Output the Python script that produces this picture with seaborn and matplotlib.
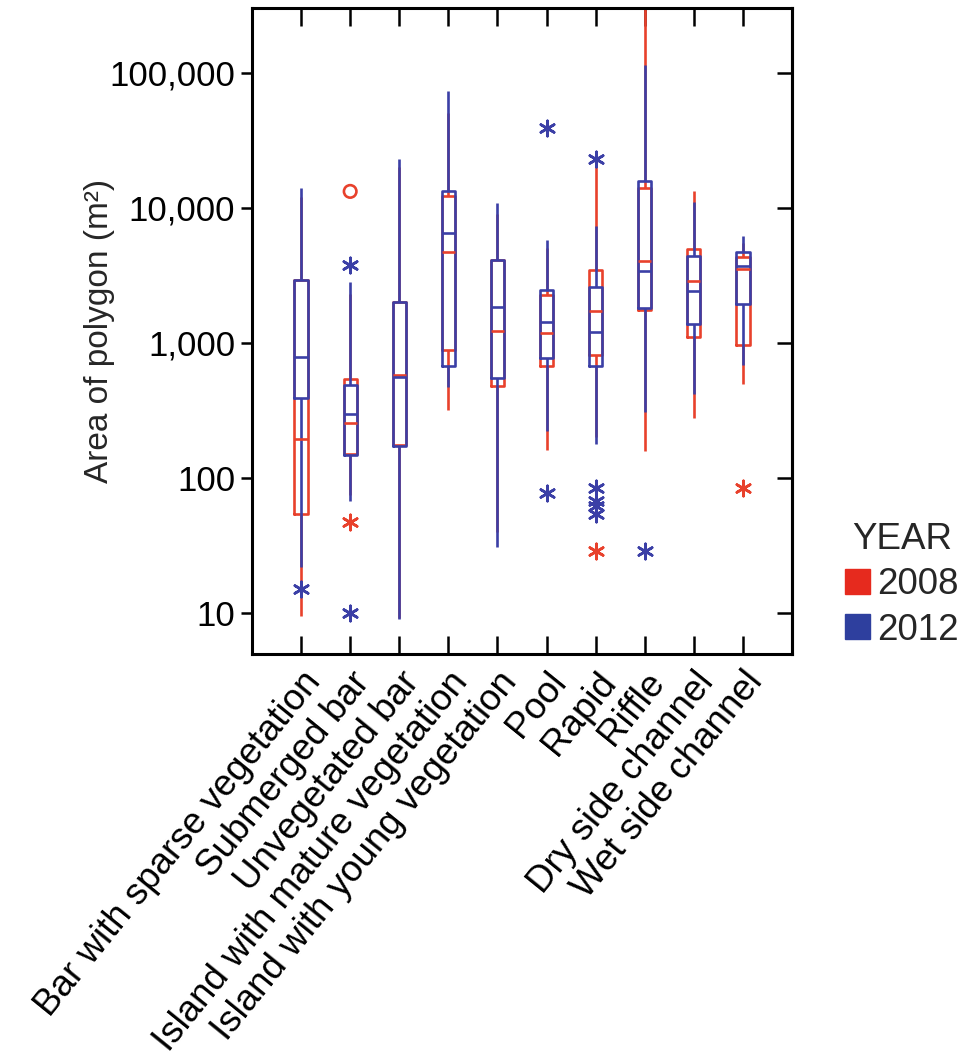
import warnings
warnings.filterwarnings("ignore")
import numpy as np
import pandas as pd
import matplotlib
matplotlib.use("Agg")
import matplotlib.pyplot as plt
from matplotlib.ticker import FixedLocator, FuncFormatter, NullLocator
from matplotlib.patches import Patch
import seaborn as sns

categories = [
    "Bar with sparse vegetation", "Submerged bar", "Unvegetated bar",
    "Island with mature vegetation", "Island with young vegetation",
    "Pool", "Rapid", "Riffle", "Dry side channel", "Wet side channel",
]
years = ["2008", "2012"]

# five-number summaries:
# lower whisker, Q1, median, Q3, upper whisker
box_2008 = [
    [9.5, 54, 195, 2900, 12000],
    [75, 150, 255, 540, 2300],
    [9.2, 175, 580, 2000, 20000],
    [320, 890, 4700, 12200, 50000],
    [40, 480, 1220, 4100, 9000],
    [162, 680, 1180, 2270, 5000],
    [200, 820, 1710, 3470, 20500],
    [158, 1750, 4060, 13900, 400000],
    [276, 1100, 2850, 4920, 13200],
    [500, 960, 3500, 4300, 5500],
]
box_2012 = [
    [22, 390, 780, 2900, 14000],
    [68, 148, 300, 490, 2800],
    [9.0, 172, 560, 2000, 23000],
    [470, 670, 6500, 13400, 72800],
    [31, 550, 1840, 4120, 10900],
    [223, 770, 1430, 2450, 5770],
    [180, 680, 1200, 2570, 7380],
    [306, 1800, 3410, 15800, 113000],
    [420, 1390, 2430, 4360, 11000],
    [690, 1950, 3700, 4680, 6200],
]

star_2008_cat = ["Submerged bar", "Rapid", "Wet side channel"]
star_2008_val = [47, 29, 84]
circle_2008_cat = ["Submerged bar"]
circle_2008_val = [13200]
star_2012_cat = ["Bar with sparse vegetation", "Submerged bar", "Submerged bar",
                 "Pool", "Pool", "Rapid", "Rapid", "Rapid", "Rapid", "Rapid", "Riffle"]
star_2012_val = [15, 3800, 10, 38600, 77, 22800, 85, 68, 62, 54, 29]

yticks = [10, 100, 1000, 10000, 100000]
colors = {"2008": "#E8412C", "2012": "#3B3FA6"}
legend_colors = {"2008": "#E62A1E", "2012": "#2E3F9E"}

rows = []
for yr, boxes in zip(years, [box_2008, box_2012]):
    for cat, stats in zip(categories, boxes):
        for v in stats:
            rows.append((cat, yr, v))
df = pd.DataFrame(rows, columns=["cat", "year", "area"])

sns.set_theme(style="white")
plt.rcParams["font.family"] = ["Liberation Sans", "DejaVu Sans"]

fig = plt.figure(figsize=(9.77, 10.59), dpi=100)
ax = fig.add_axes([252 / 977, 1 - 654 / 1059, (792 - 252) / 977, (654 - 8) / 1059])

sns.boxplot(data=df, x="cat", y="area", hue="year", order=categories,
            hue_order=years, palette=colors, dodge=False, fill=False,
            width=0.27, whis=(0, 100), showcaps=False, linewidth=1.9,
            log_scale=True, legend=False, ax=ax)

sns.stripplot(x=star_2012_cat, y=star_2012_val, order=categories,
              color=colors["2012"], edgecolor=colors["2012"], jitter=False,
              marker=(6, 2, 0), size=11, linewidth=1.9, ax=ax, zorder=4)
sns.stripplot(x=star_2008_cat, y=star_2008_val, order=categories,
              color=colors["2008"], edgecolor=colors["2008"], jitter=False,
              marker=(6, 2, 0), size=11, linewidth=1.9, ax=ax, zorder=4)
sns.stripplot(x=circle_2008_cat, y=circle_2008_val, order=categories,
              color=colors["2008"], edgecolor=colors["2008"], facecolor="none",
              jitter=False, marker="o", size=9, linewidth=1.9, ax=ax, zorder=4)

ax.set_xlim(-1, 10)
ax.set_ylim(5, 3e5)
ax.yaxis.set_major_locator(FixedLocator(yticks))
ax.yaxis.set_minor_locator(NullLocator())
ax.yaxis.set_major_formatter(FuncFormatter(lambda v, p: f"{v:,.0f}"))
ax.set_xlabel("")
ax.set_ylabel("Area of polygon (m²)", fontsize=24, labelpad=-4)
ax.set_xticks(range(len(categories)))
ax.set_xticklabels(categories, rotation=51, ha="right", rotation_mode="anchor", fontsize=26.5)
ax.tick_params(axis="x", bottom=True, top=True, direction="in", length=13,
               width=1.8, pad=8, colors="black", labelcolor="black")
ax.tick_params(axis="y", left=True, direction="out", length=8, width=1.8,
               labelsize=25, pad=4, colors="black", labelcolor="black")
for s in ax.spines.values():
    s.set_visible(True)
    s.set_linewidth(2.2)
    s.set_color("black")

sec = ax.secondary_yaxis("right")
sec.yaxis.set_major_locator(FixedLocator(yticks))
sec.yaxis.set_minor_locator(NullLocator())
sec.tick_params(axis="y", direction="in", length=11, width=1.8, labelright=False, colors="black")
for s in sec.spines.values():
    s.set_linewidth(2.2)
    s.set_color("black")

handles = [Patch(facecolor=legend_colors[y], edgecolor=legend_colors[y], label=y) for y in years]
fig.legend(handles=handles, title="YEAR", loc="upper left",
           bbox_to_anchor=(845 / 977, 1 - 522 / 1059), frameon=False,
           fontsize=26.5, title_fontsize=26.5, handlelength=0.68, handleheight=0.68,
           handletextpad=0.2, labelspacing=0.28, borderpad=0, borderaxespad=0)

fig.savefig("out.png", dpi=100)
